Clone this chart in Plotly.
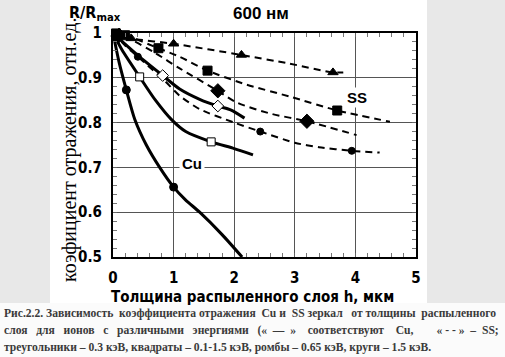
import plotly.graph_objects as go

# ---- data ----
# Cu (solid lines)
cu_circ_x = [0, 0.1, 0.22, 0.36, 0.55, 0.77, 1.0, 1.2, 1.43, 1.8, 2.13]
cu_circ_y = [1.0, 0.935, 0.873, 0.807, 0.75, 0.70, 0.656, 0.627, 0.60, 0.55, 0.50]
cu_circ_mx = [0.22, 1.0]
cu_circ_my = [0.873, 0.656]

cu_sq_x = [0, 0.15, 0.44, 0.7, 0.97, 1.2, 1.62, 2.0, 2.31]
cu_sq_y = [1.0, 0.962, 0.902, 0.85, 0.806, 0.78, 0.757, 0.742, 0.728]
cu_sq_mx = [0.44, 1.62]
cu_sq_my = [0.902, 0.757]

cu_dia_x = [0, 0.2, 0.41, 0.82, 1.1, 1.43, 1.73, 1.95, 2.17]
cu_dia_y = [1.0, 0.975, 0.95, 0.905, 0.875, 0.852, 0.837, 0.828, 0.81]
cu_dia_mx = [0.82, 1.73]
cu_dia_my = [0.905, 0.837]

# SS (dashed lines)
ss_tri_x = [0, 0.3, 1.0, 2.12, 2.9, 3.63, 3.8]
ss_tri_y = [1.0, 0.988, 0.976, 0.951, 0.932, 0.912, 0.912]
ss_tri_mx = [0.05, 0.3, 1.0, 2.12, 3.63]
ss_tri_my = [0.998, 0.988, 0.976, 0.951, 0.912]

ss_sq_x = [0, 0.2, 0.75, 1.1, 1.56, 2.2, 2.92, 3.7, 4.57]
ss_sq_y = [1.0, 0.995, 0.966, 0.947, 0.916, 0.885, 0.858, 0.827, 0.802]
ss_sq_mx = [0.05, 0.2, 0.75, 1.56, 3.7]
ss_sq_my = [0.999, 0.995, 0.966, 0.916, 0.827]

ss_dia_x = [0, 0.3, 0.7, 1.1, 1.73, 2.04, 2.6, 3.2, 4.02]
ss_dia_y = [1.0, 0.985, 0.955, 0.921, 0.871, 0.845, 0.82, 0.803, 0.772]
ss_dia_mx = [0.1, 1.73, 3.2]
ss_dia_my = [0.995, 0.871, 0.803]

ss_circ_x = [0, 0.2, 0.41, 0.84, 1.1, 1.43, 2.0, 2.43, 3.0, 3.4, 3.94, 4.4]
ss_circ_y = [1.0, 0.972, 0.947, 0.895, 0.86, 0.83, 0.80, 0.78, 0.755, 0.745, 0.737, 0.733]
ss_circ_mx = [0.41, 2.43, 3.94]
ss_circ_my = [0.947, 0.78, 0.737]

x_ticks = [0, 1, 2, 3, 4, 5]
x_ticktext = ["0", "1", "2", "3", "4", "5"]
y_ticks = [0.5, 0.6, 0.7, 0.8, 0.9, 1.0]
y_ticktext = ["0.5", "0.6", "0.7", "0.8", "0.9", "1"]

# ---- figure ----
W, H = 505, 357
L, R, T, B = 113, 89, 33, 100
pw, ph = W - L - R, H - T - B


def px(x):
    return (x - L) / pw


def py(y):
    return (H - B - y) / ph


fig = go.Figure()

DASH = "7px,5px"


def add_curve(xs, ys, mx, my, dashed, symbol, size, fill=True):
    fig.add_trace(go.Scatter(
        x=xs, y=ys, mode="lines",
        line=dict(color="black", width=2 if dashed else 3,
                  dash=DASH if dashed else "solid", shape="spline", smoothing=0.7),
        hoverinfo="skip"))
    fig.add_trace(go.Scatter(
        x=mx, y=my, mode="markers", cliponaxis=False,
        marker=dict(symbol=symbol, size=size,
                    color="black" if fill else "white",
                    line=dict(color="black", width=1)),
        hoverinfo="skip"))


add_curve(ss_tri_x, ss_tri_y, ss_tri_mx, ss_tri_my, True, "triangle-up", 9)
add_curve(ss_sq_x, ss_sq_y, ss_sq_mx, ss_sq_my, True, "square", 9)
add_curve(ss_dia_x, ss_dia_y, ss_dia_mx, ss_dia_my, True, "diamond", 11)
add_curve(ss_circ_x, ss_circ_y, ss_circ_mx, ss_circ_my, True, "circle", 7)
add_curve(cu_circ_x, cu_circ_y, cu_circ_mx, cu_circ_my, False, "circle", 8)
add_curve(cu_sq_x, cu_sq_y, cu_sq_mx, cu_sq_my, False, "square", 8, fill=False)
add_curve(cu_dia_x, cu_dia_y, cu_dia_mx, cu_dia_my, False, "diamond", 9, fill=False)

narrow = "Liberation Sans Narrow, Arial Narrow, DejaVu Sans Condensed, sans-serif"
bold_sans = "Liberation Sans, Arial, sans-serif"
serif = "Liberation Serif, Times New Roman, serif"

tickfont = dict(family=narrow, size=15, color="black", weight="bold")

axis_common = dict(
    showgrid=True, gridcolor="#555555", gridwidth=1,
    showline=True, linecolor="black", linewidth=2, mirror="allticks",
    ticks="inside", ticklen=4, tickcolor="#666666",
    tickfont=tickfont, zeroline=False, fixedrange=True,
)

fig.update_xaxes(range=[0, 5], tickvals=x_ticks, ticktext=x_ticktext,
                 minor=dict(dtick=0.2, ticks="inside", ticklen=4, tickcolor="#777777", showgrid=False),
                 ticklabelstandoff=6, **axis_common)
fig.update_yaxes(range=[0.5, 1.0], tickvals=y_ticks, ticktext=y_ticktext,
                 minor=dict(dtick=0.02, ticks="inside", ticklen=4, tickcolor="#777777", showgrid=False),
                 ticklabelstandoff=6, **axis_common)

shapes = [
    # white figure panel
    dict(type="rect", xref="paper", yref="paper", layer="below",
         x0=px(50), x1=px(427), y0=py(303), y1=py(0),
         fillcolor="white", line=dict(width=0)),
    # caption strip
    dict(type="rect", xref="paper", yref="paper", layer="below",
         x0=px(0), x1=px(W), y0=py(H), y1=py(303),
         fillcolor="#fbfbfb", line=dict(width=0)),
]

cap_font = dict(family=serif, size=11.6, color="#3a3a3a", weight="bold")
nb = "\u00a0"
g = nb * 3

line1_words = ["Рис.2.2.", "Зависимость", "коэффициента", "отражения", "Cu", "и", "SS",
               "зеркал" + nb, "от", "толщины", "распыленного"]
line1 = ""
for i, w in enumerate(line1_words):
    if i == 0:
        line1 = w
    else:
        line1 += (nb * 2 if i % 2 == 0 else nb) + w

annotations = [
    dict(text="600 нм", xref="paper", yref="paper", x=px(261), y=py(14),
         showarrow=False, xanchor="center", yanchor="middle",
         font=dict(family=bold_sans, size=17, color="black", weight="bold")),
    dict(text="R/R<sub>max</sub>", xref="paper", yref="paper", x=px(95), y=py(13),
         showarrow=False, xanchor="center", yanchor="middle",
         font=dict(family=narrow, size=16, color="black", weight="bold")),
    dict(text="коэфициент отражения, отн.ед.", xref="paper", yref="paper",
         x=px(69), y=py(150), textangle=-90,
         showarrow=False, xanchor="center", yanchor="middle",
         font=dict(family=serif, size=20, color="black")),
    dict(text="Толщина распыленного слоя h, мкм", xref="paper", yref="paper",
         x=px(252), y=py(297),
         showarrow=False, xanchor="center", yanchor="middle",
         font=dict(family=narrow, size=15, color="black", weight="bold")),
    dict(text="Cu", x=1.3, y=0.708, xref="x", yref="y", showarrow=False,
         bgcolor="white", borderpad=2,
         font=dict(family=bold_sans, size=15, color="black", weight="bold")),
    dict(text="SS", x=4.02, y=0.855, xref="x", yref="y", showarrow=False,
         bgcolor="white", borderpad=1,
         font=dict(family=bold_sans, size=15, color="black", weight="bold")),
    dict(text=line1,
         xref="paper", yref="paper", x=px(2), y=py(313),
         showarrow=False, xanchor="left", yanchor="middle", font=cap_font),
    dict(text=("слоя" + g + "для" + g + "ионов" + g + "с" + g + "различными" + g
               + "энергиями" + g + "(«" + nb * 2 + "—" + nb * 2 + "»" + g + nb + "соответствуют" + g + nb
               + "Cu," + nb * 8 + "«" + nb + "-" + nb + "-" + nb + "»" + nb * 2 + "–" + nb * 2 + "SS;"),
         xref="paper", yref="paper", x=px(2), y=py(330),
         showarrow=False, xanchor="left", yanchor="middle", font=cap_font),
    dict(text="треугольники – 0.3 кэВ, квадраты – 0.1-1.5 кэВ, ромбы – 0.65 кэВ, круги – 1.5 кэВ.",
         xref="paper", yref="paper", x=px(2), y=py(347),
         showarrow=False, xanchor="left", yanchor="middle", font=cap_font),
]

fig.update_layout(
    width=W, height=H,
    margin=dict(l=L, r=R, t=T, b=B, autoexpand=False),
    paper_bgcolor="#e8e8e8", plot_bgcolor="white",
    showlegend=False, shapes=shapes, annotations=annotations,
)

fig.write_html("out.html", config={"displayModeBar": False},
               post_script="document.body.style.margin='0';document.body.style.padding='0';")
